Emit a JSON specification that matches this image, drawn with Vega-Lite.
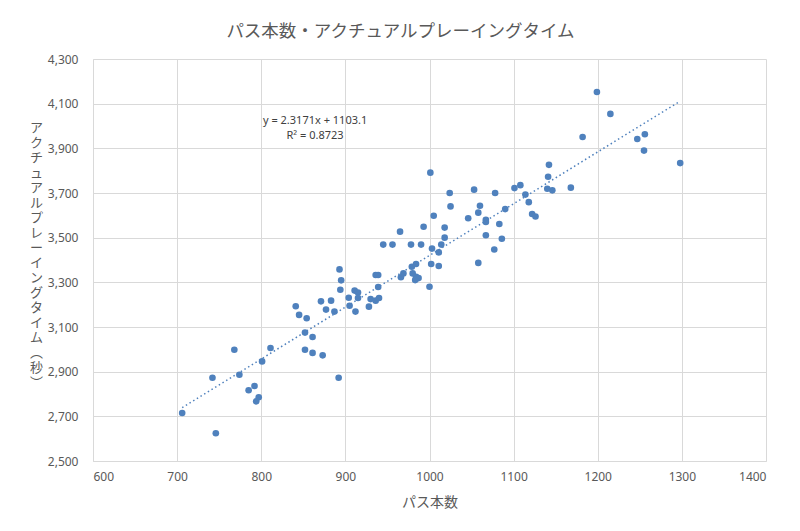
{
  "$schema": "https://vega.github.io/schema/vega-lite/v6.json",
  "width": 673,
  "height": 402,
  "autosize": {"type": "none"},
  "padding": {"left": 93, "top": 59, "right": 34, "bottom": 70},
  "background": "white",
  "title": {
    "text": "パス本数・アクチュアルプレーイングタイム",
    "font": "Noto Sans CJK JP",
    "fontSize": 17.5,
    "fontWeight": "normal",
    "color": "#595959",
    "anchor": "middle",
    "dx": -29,
    "offset": 13
  },
  "datasets": {
    "points": [
      {"pass": 706, "time": 2715}, {"pass": 742, "time": 2873}, {"pass": 746, "time": 2624},
      {"pass": 768, "time": 2998}, {"pass": 774, "time": 2886}, {"pass": 785, "time": 2817},
      {"pass": 792, "time": 2836}, {"pass": 794, "time": 2767}, {"pass": 797, "time": 2785},
      {"pass": 801, "time": 2946}, {"pass": 811, "time": 3006}, {"pass": 841, "time": 3193},
      {"pass": 845, "time": 3154}, {"pass": 852, "time": 3075}, {"pass": 854, "time": 3139},
      {"pass": 852, "time": 2998}, {"pass": 861, "time": 3055}, {"pass": 861, "time": 2984},
      {"pass": 873, "time": 2973}, {"pass": 871, "time": 3215}, {"pass": 877, "time": 3178},
      {"pass": 883, "time": 3218}, {"pass": 887, "time": 3169}, {"pass": 892, "time": 2873},
      {"pass": 893, "time": 3358}, {"pass": 895, "time": 3309}, {"pass": 894, "time": 3267},
      {"pass": 904, "time": 3231}, {"pass": 905, "time": 3195}, {"pass": 912, "time": 3169},
      {"pass": 911, "time": 3263}, {"pass": 915, "time": 3254}, {"pass": 915, "time": 3230},
      {"pass": 928, "time": 3191}, {"pass": 930, "time": 3225}, {"pass": 936, "time": 3218},
      {"pass": 940, "time": 3230}, {"pass": 939, "time": 3279}, {"pass": 936, "time": 3333},
      {"pass": 939, "time": 3333}, {"pass": 945, "time": 3469}, {"pass": 956, "time": 3469},
      {"pass": 965, "time": 3527}, {"pass": 966, "time": 3323}, {"pass": 969, "time": 3340},
      {"pass": 978, "time": 3469}, {"pass": 979, "time": 3370}, {"pass": 980, "time": 3340},
      {"pass": 984, "time": 3382}, {"pass": 984, "time": 3325}, {"pass": 987, "time": 3319},
      {"pass": 983, "time": 3310}, {"pass": 990, "time": 3469}, {"pass": 993, "time": 3549},
      {"pass": 1000, "time": 3280}, {"pass": 1002, "time": 3382}, {"pass": 1011, "time": 3373},
      {"pass": 1003, "time": 3451}, {"pass": 1011, "time": 3434}, {"pass": 1014, "time": 3469},
      {"pass": 1018, "time": 3500}, {"pass": 1018, "time": 3545}, {"pass": 1001, "time": 3791},
      {"pass": 1005, "time": 3598}, {"pass": 1024, "time": 3700}, {"pass": 1025, "time": 3640},
      {"pass": 1046, "time": 3587}, {"pass": 1053, "time": 3715}, {"pass": 1058, "time": 3612},
      {"pass": 1060, "time": 3643}, {"pass": 1058, "time": 3387}, {"pass": 1067, "time": 3580},
      {"pass": 1067, "time": 3570}, {"pass": 1067, "time": 3511}, {"pass": 1077, "time": 3447},
      {"pass": 1078, "time": 3700}, {"pass": 1083, "time": 3561}, {"pass": 1086, "time": 3495},
      {"pass": 1090, "time": 3628}, {"pass": 1101, "time": 3722}, {"pass": 1108, "time": 3735},
      {"pass": 1114, "time": 3693}, {"pass": 1118, "time": 3659}, {"pass": 1122, "time": 3606},
      {"pass": 1126, "time": 3595}, {"pass": 1142, "time": 3826}, {"pass": 1141, "time": 3773},
      {"pass": 1140, "time": 3719}, {"pass": 1146, "time": 3712}, {"pass": 1168, "time": 3724},
      {"pass": 1182, "time": 3951}, {"pass": 1199, "time": 4152}, {"pass": 1215, "time": 4054},
      {"pass": 1247, "time": 3942}, {"pass": 1256, "time": 3963}, {"pass": 1255, "time": 3890},
      {"pass": 1298, "time": 3834}
    ],
    "trend": [
      {"pass": 706, "time": 2739},
      {"pass": 1298, "time": 4111}
    ],
    "notes": [
      {"label": "y = 2.3171x + 1103.1", "pass": 864, "time": 4024},
      {"label": "R² = 0.8723", "pass": 864, "time": 3957}
    ]
  },
  "config": {
    "view": {"stroke": null},
    "axis": {
      "gridColor": "#d9d9d9",
      "gridWidth": 1,
      "domainColor": "#d9d9d9",
      "ticks": false,
      "labelColor": "#595959",
      "labelFont": "Noto Sans",
      "labelFontSize": 12,
      "titleColor": "#595959",
      "titleFont": "Noto Sans CJK JP",
      "titleFontWeight": "normal",
      "titleFontSize": 14
    }
  },
  "layer": [
    {
      "data": {"name": "points"},
      "mark": {"type": "point", "filled": true, "opacity": 1, "size": 44, "color": "#4F81BD"},
      "encoding": {
        "x": {
          "field": "pass", "type": "quantitative",
          "scale": {"domain": [600, 1400], "nice": false, "zero": false},
          "axis": {"values": [600, 700, 800, 900, 1000, 1100, 1200, 1300, 1400], "title": "パス本数", "labelPadding": 10, "titlePadding": 13, "format": "d"}
        },
        "y": {
          "field": "time", "type": "quantitative",
          "scale": {"domain": [2500, 4300], "nice": false, "zero": false},
          "axis": {
            "values": [2500, 2700, 2900, 3100, 3300, 3500, 3700, 3900, 4100, 4300],
            "format": ",.0f",
            "labelPadding": 15,
            "title": ["ア", "ク", "チ", "ュ", "ア", "ル", "プ", "レ", "ー", "イ", "ン", "グ", "タ", "イ", "ム", "︵", "秒", "︶"],
            "titleAngle": 0,
            "titleAlign": "center",
            "titleBaseline": "top",
            "titleFontSize": 13,
            "titleLineHeight": 15,
            "titleX": -57,
            "titleY": 62
          }
        }
      }
    },
    {
      "data": {"name": "trend"},
      "mark": {"type": "line", "color": "#4F81BD", "strokeWidth": 1.5, "strokeDash": [1.5, 2.8]},
      "encoding": {
        "x": {"field": "pass", "type": "quantitative"},
        "y": {"field": "time", "type": "quantitative"}
      }
    },
    {
      "data": {"name": "notes"},
      "mark": {"type": "text", "font": "Noto Sans", "fontSize": 11, "color": "#404040", "align": "center", "baseline": "middle"},
      "encoding": {
        "x": {"field": "pass", "type": "quantitative"},
        "y": {"field": "time", "type": "quantitative"},
        "text": {"field": "label"}
      }
    }
  ]
}
